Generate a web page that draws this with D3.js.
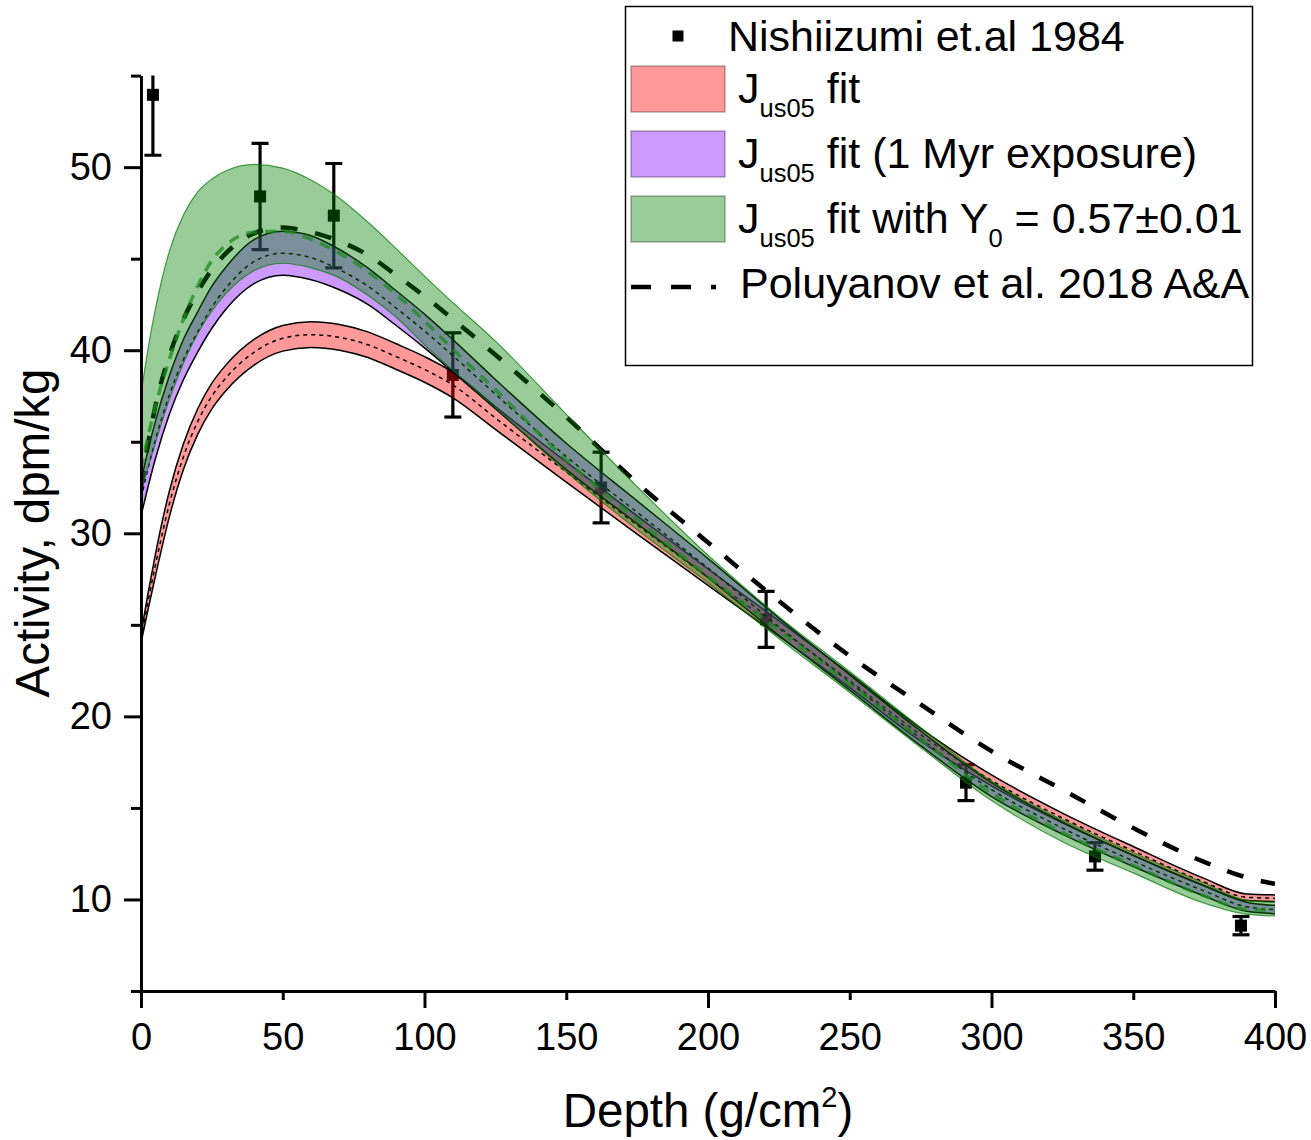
<!DOCTYPE html>
<html>
<head>
<meta charset="utf-8">
<script src="https://cdn.jsdelivr.net/npm/d3@7"></script>
<style>
  body { margin: 0; background: #fff; }
  svg text { font-family: "Liberation Sans", Arial, sans-serif; fill: #000; }
</style>
</head>
<body>
<svg id="chart" width="1311" height="1140"></svg>
<script>
// depth grid (g/cm2) shared by all fitted curves
var depth = [0, 2.5, 5, 10, 15, 20, 25, 30, 40, 50, 60, 70, 80, 90, 100, 110, 125, 150, 175, 200, 225, 250, 275, 300, 325, 350, 375, 390, 400];

// J_us05 fit (red band)
var redLow  = [24.0, 25.85, 27.6, 30.9, 33.5, 35.4, 36.8, 37.8, 39.2, 39.95, 40.15, 40.0, 39.6, 38.95, 38.25, 37.4, 35.68, 32.8, 29.95, 27.15, 24.38, 21.57, 18.65, 16.2, 14.18, 12.41, 10.75, 9.94, 9.89];
var redMid  = [24.25, 26.3, 28.2, 31.6, 34.2, 36.1, 37.5, 38.5, 39.9, 40.65, 40.85, 40.7, 40.3, 39.65, 38.95, 38.1, 36.3, 33.35, 30.45, 27.6, 24.8, 21.95, 19.0, 16.5, 14.45, 12.65, 10.95, 10.12, 10.07];
var redHigh = [24.5, 26.75, 28.8, 32.3, 34.9, 36.8, 38.2, 39.2, 40.6, 41.35, 41.55, 41.4, 41.0, 40.35, 39.65, 38.8, 36.92, 33.9, 30.95, 28.05, 25.22, 22.33, 19.35, 16.8, 14.72, 12.89, 11.15, 10.3, 10.25];

// J_us05 fit, 1 Myr exposure (purple band)
var purLow  = [30.95, 32.55, 34.03, 36.5, 38.4, 39.9, 41.2, 42.25, 43.65, 44.1, 43.85, 43.3, 42.5, 41.35, 40.13, 38.82, 36.8, 33.48, 30.53, 27.58, 24.43, 21.43, 18.4, 15.62, 13.57, 11.8, 10.19, 9.35, 9.22];
var purMid  = [31.9, 33.55, 35.05, 37.55, 39.5, 41.0, 42.35, 43.4, 44.85, 45.3, 45.05, 44.4, 43.5, 42.3, 41.05, 39.7, 37.6, 34.2, 31.15, 28.1, 24.9, 21.85, 18.8, 16.0, 13.9, 12.1, 10.47, 9.6, 9.45];
var purHigh = [32.85, 34.55, 36.07, 38.6, 40.6, 42.1, 43.5, 44.55, 46.05, 46.5, 46.25, 45.5, 44.5, 43.25, 41.97, 40.58, 38.4, 34.92, 31.77, 28.62, 25.37, 22.27, 19.2, 16.38, 14.23, 12.4, 10.75, 9.85, 9.68];

// J_us05 fit with Y0 = 0.57 (green band)
var grnLow  = [32.3, 33.6, 34.9, 37.3, 39.3, 40.9, 42.15, 43.1, 44.35, 44.75, 44.5, 43.95, 43.0, 41.8, 40.3, 38.9, 36.85, 33.35, 30.2, 27.3, 24.25, 21.3, 18.3, 15.4, 13.15, 11.45, 9.8, 9.2, 9.1];
var grnMid  = [33.5, 35.3, 36.9, 39.5, 41.7, 43.5, 44.9, 45.75, 46.45, 46.5, 46.05, 45.3, 44.3, 43.05, 41.6, 40.05, 37.85, 34.0, 30.75, 27.65, 24.7, 21.75, 18.75, 15.8, 13.65, 11.85, 10.2, 9.45, 9.4];
var grnHigh = [37.6, 40.1, 42.2, 45.4, 47.4, 48.65, 49.35, 49.8, 50.15, 49.95, 49.3, 48.3, 47.0, 45.55, 44.05, 42.6, 40.5, 36.5, 32.55, 28.8, 25.45, 22.45, 19.4, 16.45, 14.35, 12.55, 10.9, 9.95, 9.85];

// Poluyanov et al. 2018 A&A
var poluyanov = [32.5, 34.9, 36.9, 39.7, 41.7, 43.2, 44.4, 45.3, 46.4, 46.7, 46.45, 45.95, 45.2, 44.1, 42.95, 41.7, 39.75, 36.35, 32.75, 29.5, 26.3, 23.3, 20.65, 18.1, 16.0, 13.9, 12.05, 11.2, 10.85];

// Nishiizumi et al. 1984 measurements
var nishDepth = [4.2, 42, 68, 110, 162.3, 220.5, 291, 336.5, 388];
var nishAct   = [53.95, 48.4, 47.35, 38.65, 32.5, 25.3, 16.38, 12.35, 8.57];
var nishErr   = [3.3, 2.9, 2.85, 2.3, 1.93, 1.53, 0.98, 0.75, 0.5];

var xTicks = [0, 50, 100, 150, 200, 250, 300, 350, 400];
var yTicks = [5, 10, 15, 20, 25, 30, 35, 40, 45, 50, 55];

var svg = d3.select('#chart');
var x = d3.scaleLinear().domain([0, 400]).range([141, 1275]);
var y = d3.scaleLinear().domain([5, 55]).range([991, 75.6]);

svg.append('clipPath').attr('id', 'plotclip')
  .append('rect')
  .attr('x', x(0)).attr('y', y(55))
  .attr('width', x(400) - x(0)).attr('height', y(5) - y(55));

var plot = svg.append('g').attr('clip-path', 'url(#plotclip)');

// measured points go first, the bands are drawn over them
var pts = nishDepth.map(function (d, i) { return {d: d, v: nishAct[i], e: nishErr[i]}; });
var pg = plot.append('g').attr('stroke', '#000').attr('stroke-width', 3.2);
pg.selectAll('line.bar').data(pts).enter().append('line')
  .attr('x1', function (p) { return x(p.d); }).attr('x2', function (p) { return x(p.d); })
  .attr('y1', function (p) { return y(p.v + p.e); }).attr('y2', function (p) { return y(p.v - p.e); });
[1, -1].forEach(function (s) {
  pg.selectAll(null).data(pts).enter().append('line')
    .attr('x1', function (p) { return x(p.d) - 8.5; }).attr('x2', function (p) { return x(p.d) + 8.5; })
    .attr('y1', function (p) { return y(p.v + s * p.e); }).attr('y2', function (p) { return y(p.v + s * p.e); });
});
plot.selectAll('rect.pt').data(pts).enter().append('rect')
  .attr('x', function (p) { return x(p.d) - 6; }).attr('y', function (p) { return y(p.v) - 6; })
  .attr('width', 12).attr('height', 12).attr('fill', '#000');

var idx = depth.map(function (d, i) { return i; });
function linePath(arr) {
  return d3.line().x(function (i) { return x(depth[i]); }).y(function (i) { return y(arr[i]); })
    .curve(d3.curveMonotoneX)(idx);
}
function areaPath(lo, hi) {
  return d3.area().x(function (i) { return x(depth[i]); })
    .y0(function (i) { return y(lo[i]); }).y1(function (i) { return y(hi[i]); })
    .curve(d3.curveMonotoneX)(idx);
}

plot.append('path').attr('d', linePath(poluyanov))
  .attr('fill', 'none').attr('stroke', '#000').attr('stroke-width', 4.5)
  .attr('stroke-dasharray', '17,18');

var bands = [
  {lo: redLow, mid: redMid, hi: redHigh, fill: 'rgba(255,0,0,0.4)', edge: '#000', edgeW: 1.5,
    midColor: '#000', midW: 1.5, midDash: '4,4'},
  {lo: purLow, mid: purMid, hi: purHigh, fill: 'rgba(128,0,255,0.4)', edge: '#000', edgeW: 1.5,
    midColor: '#000', midW: 1.5, midDash: '4,4'},
  {lo: grnLow, mid: grnMid, hi: grnHigh, fill: 'rgba(0,128,0,0.4)', edge: 'rgba(0,120,0,0.7)', edgeW: 1.2,
    midColor: 'rgba(30,140,30,0.75)', midW: 3.5, midDash: '11,8'}
];

bands.forEach(function (b) {
  plot.append('path').attr('d', areaPath(b.lo, b.hi)).attr('fill', b.fill).attr('stroke', 'none');
  [b.lo, b.hi].forEach(function (arr) {
    plot.append('path').attr('d', linePath(arr))
      .attr('fill', 'none').attr('stroke', b.edge).attr('stroke-width', b.edgeW);
  });
  plot.append('path').attr('d', linePath(b.mid))
    .attr('fill', 'none').attr('stroke', b.midColor).attr('stroke-width', b.midW)
    .attr('stroke-dasharray', b.midDash);
});

// axes
var xAxis = svg.append('g').attr('transform', 'translate(0,' + y(5) + ')')
  .call(d3.axisBottom(x).tickValues(xTicks).tickSize(17).tickSizeOuter(0));
xAxis.selectAll('.tick line').attr('y2', function (d) { return d % 100 === 0 ? 17 : 9; });
xAxis.selectAll('.tick text').attr('y', 32).attr('font-size', 38);

var yAxis = svg.append('g').attr('transform', 'translate(' + x(0) + ',0)')
  .call(d3.axisLeft(y).tickValues(yTicks).tickSize(17).tickSizeOuter(0)
    .tickFormat(function (d) { return d % 10 === 0 ? d : ''; }));
yAxis.selectAll('.tick line').attr('x2', function (d) { return d % 10 === 0 ? -17 : -10; });
yAxis.selectAll('.tick text').attr('x', -29).attr('font-size', 38);

svg.selectAll('.domain, .tick line').attr('stroke', '#000').attr('stroke-width', 3);
svg.selectAll('.tick text').attr('fill', '#000').attr('font-family', '"Liberation Sans", Arial, sans-serif');

// axis titles
var xt = svg.append('text').attr('x', 708).attr('y', 1127).attr('text-anchor', 'middle').attr('font-size', 47.5);
xt.append('tspan').text('Depth (g/cm');
xt.append('tspan').attr('font-size', 29).attr('dy', -20).text('2');
xt.append('tspan').attr('dy', 20).text(')');

svg.append('text').attr('transform', 'translate(49,533) rotate(-90)')
  .attr('text-anchor', 'middle').attr('font-size', 47.5).text('Activity, dpm/kg');

// legend
var lg = svg.append('g');
lg.append('rect').attr('x', 625.5).attr('y', 6.5).attr('width', 627).attr('height', 359)
  .attr('fill', '#fff').attr('stroke', '#000').attr('stroke-width', 1.5);
lg.append('rect').attr('x', 672.5).attr('y', 30.5).attr('width', 11).attr('height', 11).attr('fill', '#000');
lg.append('text').attr('x', 728).attr('y', 51).attr('font-size', 43).text('Nishiizumi et.al 1984');

var swatches = [
  {y: 66, fill: 'rgba(255,0,0,0.4)', tail: ' fit'},
  {y: 131, fill: 'rgba(128,0,255,0.4)', tail: ' fit (1 Myr exposure)'},
  {y: 196, fill: 'rgba(0,128,0,0.4)', tail: ' fit with Y'}
];
swatches.forEach(function (s, k) {
  lg.append('rect').attr('x', 631).attr('y', s.y).attr('width', 94).attr('height', 46)
    .attr('fill', s.fill).attr('stroke', 'rgba(0,0,0,0.3)').attr('stroke-width', 1.5);
  var t = lg.append('text').attr('x', 738).attr('y', s.y + 37).attr('font-size', 43);
  t.append('tspan').text('J');
  t.append('tspan').attr('font-size', 25.5).attr('dy', 14).text('us05');
  t.append('tspan').attr('dy', -14).text(s.tail);
  if (k === 2) {
    t.append('tspan').attr('font-size', 25.5).attr('dy', 14).text('0');
    t.append('tspan').attr('dy', -14).text(' = 0.57\u00b10.01');
  }
});
lg.append('line').attr('x1', 631).attr('x2', 716).attr('y1', 287).attr('y2', 287)
  .attr('stroke', '#000').attr('stroke-width', 4.5).attr('stroke-dasharray', '20,20');
lg.append('text').attr('x', 740).attr('y', 298).attr('font-size', 43).text('Poluyanov et al. 2018 A&A');
</script>
</body>
</html>
